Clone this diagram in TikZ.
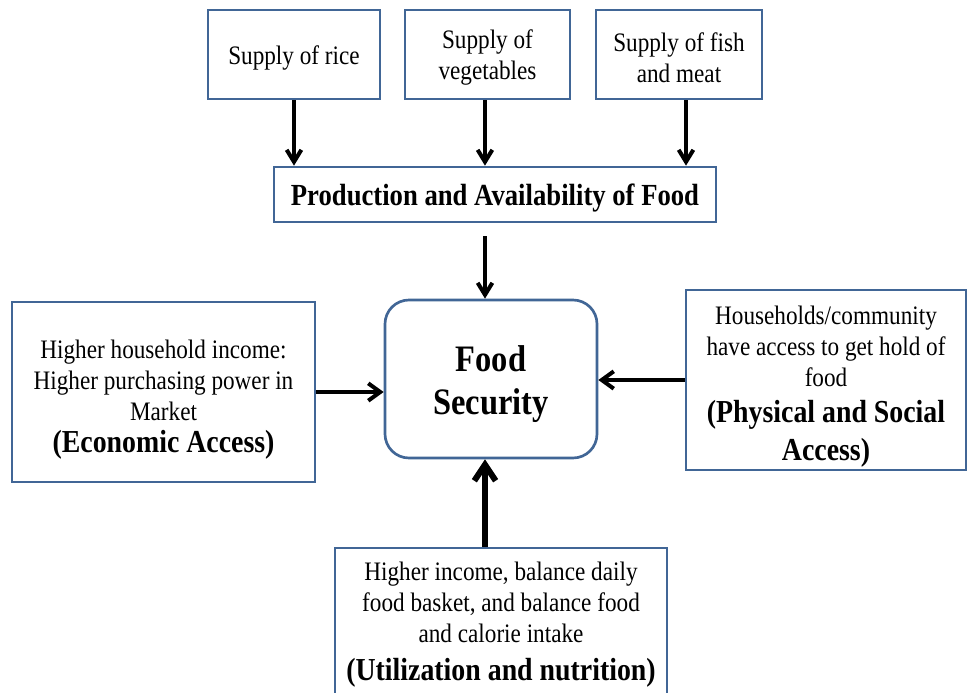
\documentclass[tikz,border=0pt]{standalone}
\usepackage{fontspec}
\setmainfont{Liberation Serif}[FakeStretch=0.87]
\usetikzlibrary{arrows.meta}
\definecolor{boxblue}{RGB}{65,102,150}
\begin{document}
\begin{tikzpicture}[x=0.75pt,y=-0.75pt,
    box/.style={draw=boxblue,line width=2pt,align=center,inner sep=0pt,font=\fontsize{20}{23}\selectfont},
    arr/.style={-{Straight Barb[length=9pt,width=11pt]},line width=3pt}]
\useasboundingbox[fill=white] (0,0) rectangle (969,692);
\clip (0,0) rectangle (969,692);
% supply boxes
\node[box,minimum width=129pt,minimum height=66.75pt] (rice) at (294,54.5) {\rule{0pt}{19pt}Supply of rice};
\node[box,minimum width=123.75pt,minimum height=66.75pt] (veg) at (487.5,54.5) {\rule{0pt}{19pt}Supply of\\vegetables};
\node[box,minimum width=124.5pt,minimum height=66.75pt] (fish) at (679,54.5) {\rule{0pt}{19pt}Supply of fish\\and meat};
\node[box,minimum width=331.5pt,minimum height=41.25pt,font=\bfseries\fontsize{23}{27}\selectfont] (prod) at (495,194.5) {\rule{0pt}{22pt}Production and Availability of Food};
% centre
\node[box,rounded corners=18pt,minimum width=159pt,minimum height=118.5pt,font=\bfseries\fontsize{28}{32}\selectfont] (fs) at (491,379) {\rule{0pt}{27pt}Food\\Security};
% access boxes
\node[box,minimum width=227.25pt,minimum height=135pt] (econ) at (163.5,392) {\rule{0pt}{26pt}Higher household income:\\Higher purchasing power in\\Market\\[1.5pt]{\bfseries\fontsize{24}{28}\selectfont (Economic Access)}};
\node[box,minimum width=210pt,minimum height=135pt] (phys) at (826,380) {\rule{0pt}{24pt}Households/community\\have access to get hold of\\food\\[4pt]{\bfseries\fontsize{24}{28}\selectfont (Physical and Social}\\[5.5pt]{\bfseries\fontsize{24}{28}\selectfont Access)}};
\node[box,minimum width=249pt,minimum height=115.5pt] (util) at (501,625) {Higher income, balance daily\\food basket, and balance food\\and calorie intake\\[6pt]{\bfseries\fontsize{24}{28}\selectfont (Utilization and nutrition)}};
% arrows
\draw[arr] (rice.south) -- (rice.south |- prod.north);
\draw[arr] ([xshift=-1.9pt]veg.south) -- ([xshift=-1.9pt]veg.south |- prod.north);
\draw[arr] ([xshift=5.25pt]fish.south) -- ([xshift=5.25pt]fish.south |- prod.north);
\draw[arr] ([xshift=-7.5pt,yshift=-9.75pt]prod.south) -- ([xshift=-7.5pt]prod.south |- fs.north);
\draw[arr,-{Straight Barb[length=9pt,width=13pt]}] (econ.east) -- (econ.east -| fs.west);
\draw[arr,-{Straight Barb[length=9pt,width=13pt]}] (phys.west) -- (phys.west -| fs.east);
\draw[line width=4.5pt,-{Straight Barb[length=12pt,width=16pt]}] ([xshift=-12pt]util.north) -- ([xshift=-12pt]util.north |- fs.south);
\end{tikzpicture}
\end{document}
